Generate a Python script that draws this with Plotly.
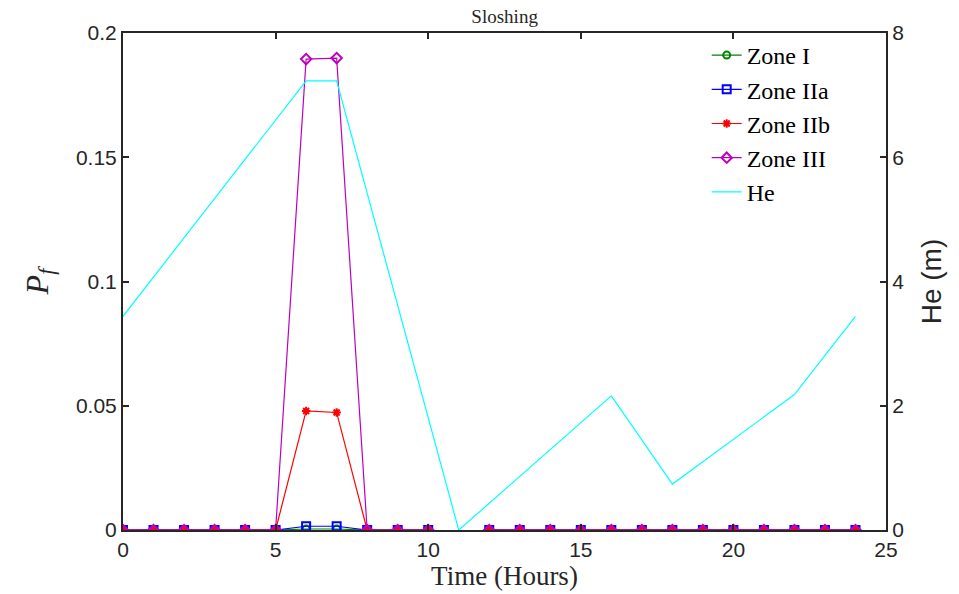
import plotly.graph_objects as go

hours = list(range(25))
nan = None
zone_I   = [0,0,0,0,0,0,0.0004,0.0004,0,0,0,nan,0,0,0,0,0,0,0,0,0,0,0,0,0]
zone_IIa = [0,0,0,0,0,0,0.0015,0.0015,0,0,0,nan,0,0,0,0,0,0,0,0,0,0,0,0,0]
zone_IIb = [0,0,0,0,0,0,0.0479,0.0473,0,0,0,nan,0,0,0,0,0,0,0,0,0,0,0,0,0]
zone_III = [0,0,0,0,0,0,0.1895,0.1899,0,0,0,nan,0,0,0,0,0,0,0,0,0,0,0,0,0]
he = [3.44,4.07,4.70,5.33,5.96,6.60,7.23,7.23,5.42,3.62,1.81,0,
      0.43,0.86,1.30,1.73,2.16,1.45,0.74,1.10,1.46,1.82,2.18,2.81,3.44]

x_ticks = [0,5,10,15,20,25]
y_ticks = [0,0.05,0.1,0.15,0.2]
y_tick_text = ["0","0.05","0.1","0.15","0.2"]
y2_ticks = [0,2,4,6,8]

serif = "Liberation Serif, Times New Roman, serif"
sans = "Liberation Sans, Arial, sans-serif"
ink = "#262626"

fig = go.Figure()
series = [
    ("Zone I", zone_I, "#008000", "circle-open", 7),
    ("Zone IIa", zone_IIa, "#0000ff", "square-open", 8),
    ("Zone IIb", zone_IIb, "#ff0000", "asterisk-open", 7),
    ("Zone III", zone_III, "#bf00bf", "diamond-open", 8),
]
for name, vals, col, sym, sz in series:
    fig.add_trace(go.Scatter(
        x=hours, y=vals, name=name, mode="lines+markers",
        line=dict(color=col, width=1.2),
        marker=dict(symbol=sym, size=sz, color=col, line=dict(color=col, width=2)),
        connectgaps=False,
    ))
fig.add_trace(go.Scatter(
    x=hours, y=he, name="He", mode="lines", yaxis="y2",
    line=dict(color="#00ffff", width=1.2),
))

axis_common = dict(ticks="inside", ticklen=6, tickwidth=1.5, tickcolor=ink,
                   showline=True, linecolor=ink, linewidth=2, showgrid=False,
                   zeroline=False, tickfont=dict(family=sans, size=21, color=ink))

fig.update_layout(
    width=959, height=594,
    margin=dict(l=123, r=73, t=33, b=61),
    plot_bgcolor="white", paper_bgcolor="white",
    title=dict(text="Sloshing", x=0.5262, xanchor="center", y=0.972, yanchor="middle",
               font=dict(family=serif, size=19, color=ink)),
    xaxis=dict(range=[0,25], tickvals=x_ticks, mirror="ticks",
               title=dict(text="Time (Hours)", standoff=2,
                          font=dict(family=serif, size=27, color=ink)),
               **axis_common),
    yaxis=dict(range=[0,0.2], tickvals=y_ticks, ticktext=y_tick_text,
               title=dict(text="<i>P</i><sub><i>f</i></sub>", standoff=18,
                          font=dict(family=serif, size=32, color=ink)),
               **axis_common),
    yaxis2=dict(range=[0,8], tickvals=y2_ticks, overlaying="y", side="right",
                title=dict(text="He (m)", standoff=18,
                           font=dict(family=sans, size=28, color=ink)),
                **axis_common),
    legend=dict(x=0.765, xanchor="left", y=1.0, yanchor="top",
                bgcolor="rgba(0,0,0,0)", font=dict(family=serif, size=24, color="black"),
                tracegroupgap=0),
    showlegend=True,
)

fig.write_html("out.html")
